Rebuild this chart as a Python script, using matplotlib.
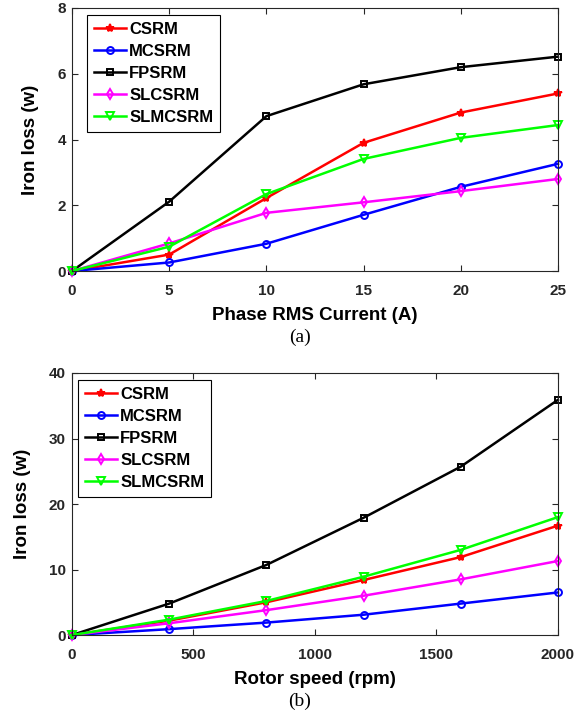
import matplotlib
matplotlib.use('Agg')
import matplotlib.pyplot as plt

plt.rcParams['font.family'] = ['Liberation Sans', 'DejaVu Sans']

# (a) iron loss vs phase current
current = [0, 5, 10, 15, 20, 25]
loss_a_csrm    = [0, 0.50, 2.22, 3.90, 4.82, 5.40]
loss_a_mcsrm   = [0, 0.26, 0.83, 1.71, 2.56, 3.26]
loss_a_fpsrm   = [0, 2.11, 4.71, 5.68, 6.20, 6.52]
loss_a_slcsrm  = [0, 0.84, 1.77, 2.09, 2.43, 2.80]
loss_a_slmcsrm = [0, 0.74, 2.34, 3.41, 4.05, 4.44]

# (b) iron loss vs rotor speed
speed = [0, 400, 800, 1200, 1600, 2000]
loss_b_csrm    = [0, 2.2, 5.0, 8.4, 11.9, 16.7]
loss_b_mcsrm   = [0, 0.9, 1.9, 3.1, 4.8, 6.5]
loss_b_fpsrm   = [0, 4.8, 10.7, 17.9, 25.7, 35.9]
loss_b_slcsrm  = [0, 1.8, 3.8, 6.0, 8.5, 11.3]
loss_b_slmcsrm = [0, 2.35, 5.2, 8.9, 13.0, 18.0]

names = ['CSRM', 'MCSRM', 'FPSRM', 'SLCSRM', 'SLMCSRM']
colors = ['#ff0000', '#0000ff', '#000000', '#ff00ff', '#00ff00']
markers = ['*', 'o', 's', 'd', 'v']
msizes = [6, 5, 4.5, 5, 6]

txt = '#262626'


def 画图(axis, x, series, xlim, ylim, xticks, yticks, xlabel, caption, legpos):
    for i in range(len(series)):
        filled = markers[i] == '*'
        axis.plot(x, series[i], color=colors[i], marker=markers[i],
                  markersize=msizes[i], markeredgewidth=1.4,
                  markerfacecolor=colors[i] if filled else 'none',
                  linewidth=1.8, label=names[i], clip_on=False)
    axis.set_xlim(*xlim)
    axis.set_ylim(*ylim)
    axis.set_xticks(xticks)
    axis.set_yticks(yticks)
    axis.tick_params(direction='in', top=True, right=True, length=4,
                     width=0.8, colors=txt, labelsize=11)
    axis.tick_params(axis='x', pad=9.5)
    axis.tick_params(axis='y', pad=4.5)
    for lab in axis.get_xticklabels() + axis.get_yticklabels():
        lab.set_fontweight('bold')
    for sp in axis.spines.values():
        sp.set_color(txt)
        sp.set_linewidth(0.8)
    axis.set_xlabel(xlabel, fontsize=13.5, fontweight='bold', color='black', labelpad=6)
    axis.set_ylabel('Iron loss (w)', fontsize=13.5, fontweight='bold', color='black', labelpad=13)
    leg = axis.legend(loc='upper left', bbox_to_anchor=legpos, borderaxespad=0,
                      fancybox=False, edgecolor='black',
                      handlelength=1.9, handletextpad=0.2,
                      borderpad=0.42, labelspacing=0.42,
                      framealpha=1, prop={'weight': 'bold', 'size': 12})
    leg.get_frame().set_linewidth(0.8)
    axis.text(0.469, -0.252, caption, transform=axis.transAxes, ha='center',
              va='center', fontsize=14, family='Liberation Serif')


fig = plt.figure(figsize=(5.83, 7.14), dpi=100)
ax1 = fig.add_axes([0.1235, 0.6204, 0.8335, 0.3684])
ax2 = fig.add_axes([0.1235, 0.1106, 0.8335, 0.367])

画图(ax1, current,
     [loss_a_csrm, loss_a_mcsrm, loss_a_fpsrm, loss_a_slcsrm, loss_a_slmcsrm],
     (0, 25), (0, 8), [0, 5, 10, 15, 20, 25], [0, 2, 4, 6, 8],
     'Phase RMS Current (A)', '(a)', (0.031, 0.973))
画图(ax2, speed,
     [loss_b_csrm, loss_b_mcsrm, loss_b_fpsrm, loss_b_slcsrm, loss_b_slmcsrm],
     (0, 2000), (0, 40), [0, 500, 1000, 1500, 2000], [0, 10, 20, 30, 40],
     'Rotor speed (rpm)', '(b)', (0.013, 0.973))

fig.savefig('out.png', dpi=100)
